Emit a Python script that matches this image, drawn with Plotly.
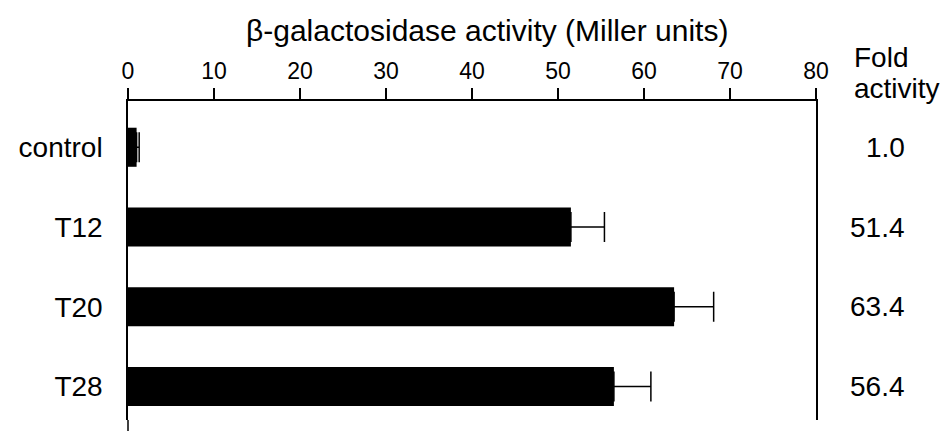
import plotly.graph_objects as go

categories = ["control", "T12", "T20", "T28"]
activity = [1.0, 51.5, 63.5, 56.5]
errors = [0.3, 3.9, 4.6, 4.3]
fold_labels = ["1.0", "51.4", "63.4", "56.4"]
x_ticks = [0, 10, 20, 30, 40, 50, 60, 70, 80]

FONT = "Liberation Sans, Arial, Helvetica, sans-serif"

fig = go.Figure()
fig.add_trace(go.Bar(
    x=activity,
    y=categories,
    orientation="h",
    width=0.49,
    marker=dict(color="black", line=dict(width=0)),
    error_x=dict(type="data", symmetric=False, array=errors,
                 arrayminus=[0] * len(errors),
                 color="black", thickness=1.5, width=15),
    showlegend=False,
))

annotations = [
    dict(text="β-galactosidase activity (Miller units)", xref="paper", yref="paper",
         x=0.522, y=1.22, xanchor="center", yanchor="middle", showarrow=False,
         font=dict(size=30, color="black", family=FONT)),
    dict(text="Fold", xref="paper", yref="paper", x=1.053, y=1.137,
         xanchor="left", yanchor="middle", showarrow=False,
         font=dict(size=28, color="black", family=FONT)),
    dict(text="activity", xref="paper", yref="paper", x=1.053, y=1.04,
         xanchor="left", yanchor="middle", showarrow=False,
         font=dict(size=28, color="black", family=FONT)),
]
for cat, lab in zip(categories, fold_labels):
    annotations.append(dict(text=lab, xref="paper", yref="y", x=1.132, y=cat,
                            xanchor="right", yanchor="middle", showarrow=False,
                            font=dict(size=28, color="black", family=FONT)))

fig.update_layout(
    width=943, height=423,
    margin=dict(l=118, r=135, t=93, b=11),
    paper_bgcolor="white", plot_bgcolor="white",
    font=dict(family=FONT, color="black"),
    annotations=annotations,
    xaxis=dict(
        side="top", range=[0, 80], tickvals=x_ticks,
        ticktext=[str(v) for v in x_ticks],
        ticks="outside", ticklen=11, tickwidth=1.5, tickcolor="black",
        showline=True, linecolor="black", linewidth=1.5,
        showgrid=False, zeroline=False,
        tickfont=dict(size=23, color="black", family=FONT),
        fixedrange=True,
    ),
    yaxis=dict(
        categoryorder="array", categoryarray=categories,
        range=[3.42, -0.58],
        showline=True, mirror=True, linecolor="black", linewidth=1.5,
        ticks="", showgrid=False, zeroline=False,
        ticklabelstandoff=18,
        tickfont=dict(size=28, color="black", family=FONT),
        fixedrange=True,
    ),
)

fig.add_shape(type="line", xref="paper", yref="paper", x0=0, x1=0, y0=0, y1=-0.035,
              line=dict(color="black", width=1.5))

fig.write_html("out.html")
